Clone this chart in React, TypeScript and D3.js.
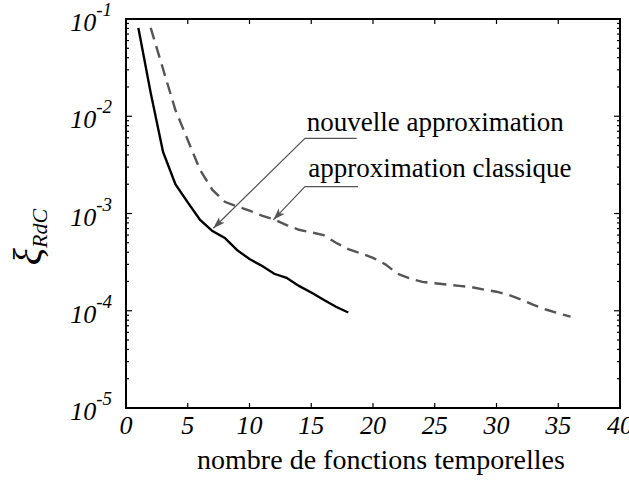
import React from 'react';
import * as d3 from 'd3';

// nombre de fonctions temporelles
const newX = [1, 2, 3, 4, 5, 6, 7, 8, 9, 10, 11, 12, 13, 14, 15, 16, 17, 18];
const newErr = [
  0.081, 0.0174, 0.0043, 0.002, 0.0013, 0.00086, 0.00066, 0.00056, 0.00042, 0.00034,
  0.00029, 0.00024, 0.000218, 0.00018, 0.000154, 0.00013, 0.00011, 0.000096,
];

const classX = [
  2, 3, 4, 5, 6, 7, 8, 9, 10, 11, 12, 13, 14, 15, 16, 17, 18, 19, 20,
  21, 22, 23, 24, 25, 26, 27, 28, 29, 30, 31, 32, 33, 34, 35, 36,
];
const classErr = [
  0.081, 0.0306, 0.0116, 0.0057, 0.0028, 0.00175, 0.00132, 0.00118, 0.00107, 0.00095,
  0.00087, 0.00076, 0.00068, 0.00064, 0.0006, 0.0005, 0.00043, 0.00039, 0.00035,
  0.0003, 0.00024, 0.000215, 0.000198, 0.000192, 0.000186, 0.00018, 0.000175,
  0.000165, 0.000157, 0.000145, 0.00013, 0.000115, 0.000103, 0.000094, 0.000087,
];

const xTickValues = [0, 5, 10, 15, 20, 25, 30, 35, 40];
const yExponents = [-5, -4, -3, -2, -1];

// annotations: text anchor, elbow, end of underline, arrow tip (data coords)
const annotations = [
  { label: 'nouvelle approximation', text: [14.63, 0.00705], elbow: [14.49, 0.00593], end: 18.68, tip: [7.07, 0.000705] },
  { label: 'approximation classique', text: [14.76, 0.00237], elbow: [14.49, 0.00189], end: 18.79, tip: [11.93, 0.00086] },
];

const W = 629;
const H = 487;
const left = 126;
const right = 620;
const top = 19;
const bottom = 408;
const serif = "'Liberation Serif', 'DejaVu Serif', serif";
const grey = '#555';

export default function App() {
  const x = d3.scaleLinear().domain([0, 40]).range([left, right]);
  const y = d3.scaleLog().domain([1e-5, 1e-1]).range([bottom, top]);

  const line = d3
    .line<[number, number]>()
    .x((d) => x(d[0]))
    .y((d) => y(d[1]));

  const newPts = newX.map((v, i) => [v, newErr[i]] as [number, number]);
  const classPts = classX.map((v, i) => [v, classErr[i]] as [number, number]);

  // minor log ticks 2..9 in each decade
  const minor: number[] = [];
  yExponents.slice(0, -1).forEach((e) => {
    for (let k = 2; k <= 9; k++) minor.push(k * Math.pow(10, e));
  });

  const txt = { fontFamily: serif };
  const itxt = { fontFamily: serif, fontStyle: 'italic' };

  return (
    <svg width={W} height={H} style={{ position: 'absolute', left: 0, top: 0, background: '#fff' }}>
      <defs>
        <marker id="arr" viewBox="0 0 12 8" refX="12" refY="4" markerWidth="12" markerHeight="8"
          markerUnits="userSpaceOnUse" orient="auto">
          <path d="M0,0 L12,4 L0,8 L3,4 z" fill={grey} />
        </marker>
      </defs>

      {/* curves */}
      <path d={line(classPts) || ''} fill="none" stroke={grey} strokeWidth={2.4} strokeDasharray="12,7" />
      <path d={line(newPts) || ''} fill="none" stroke="#000" strokeWidth={2.4} />

      {/* ticks */}
      <g stroke="#000" strokeWidth={1.2}>
        {xTickValues.slice(1, -1).map((t) => (
          <g key={'xt' + t}>
            <line x1={x(t)} x2={x(t)} y1={bottom} y2={bottom - 5} />
            <line x1={x(t)} x2={x(t)} y1={top} y2={top + 5} />
          </g>
        ))}
        {yExponents.map((e) => (
          <g key={'ym' + e}>
            <line x1={left} x2={left + 6} y1={y(Math.pow(10, e))} y2={y(Math.pow(10, e))} />
            <line x1={right} x2={right - 6} y1={y(Math.pow(10, e))} y2={y(Math.pow(10, e))} />
          </g>
        ))}
        {minor.map((m, i) => (
          <g key={'yn' + i}>
            <line x1={left} x2={left + 3} y1={y(m)} y2={y(m)} />
            <line x1={right} x2={right - 3} y1={y(m)} y2={y(m)} />
          </g>
        ))}
      </g>

      {/* frame */}
      <rect x={left} y={top} width={right - left} height={bottom - top} fill="none" stroke="#000" strokeWidth={2} />

      {/* x tick labels */}
      {xTickValues.map((t) => (
        <text key={'xl' + t} x={x(t)} y={434} textAnchor="middle" style={itxt} fontSize={26}>
          {t}
        </text>
      ))}

      {/* y tick labels */}
      {yExponents.map((e) => (
        <text key={'yl' + e} x={112} y={y(Math.pow(10, e)) + 12} textAnchor="end" style={itxt} fontSize={26}>
          10
          <tspan fontSize={19} dy={-15}>{String(e)}</tspan>
        </text>
      ))}

      {/* axis titles */}
      <text x={(left + right) / 2 + 8} y={469} textAnchor="middle" style={txt} fontSize={28}>
        nombre de fonctions temporelles
      </text>
      <text transform={`translate(41,237) rotate(-90)`} textAnchor="middle" style={itxt} fontSize={40}>
        ξ<tspan fontSize={22} dy={6}>RdC</tspan>
      </text>

      {/* annotations */}
      {annotations.map((a) => (
        <g key={a.label}>
          <text x={x(a.text[0])} y={y(a.text[1])} style={txt} fontSize={27}>
            {a.label}
          </text>
          <polyline
            points={`${x(a.end)},${y(a.elbow[1])} ${x(a.elbow[0])},${y(a.elbow[1])} ${x(a.tip[0])},${y(a.tip[1])}`}
            fill="none"
            stroke={grey}
            strokeWidth={1.2}
            markerEnd="url(#arr)"
          />
        </g>
      ))}
    </svg>
  );
}
